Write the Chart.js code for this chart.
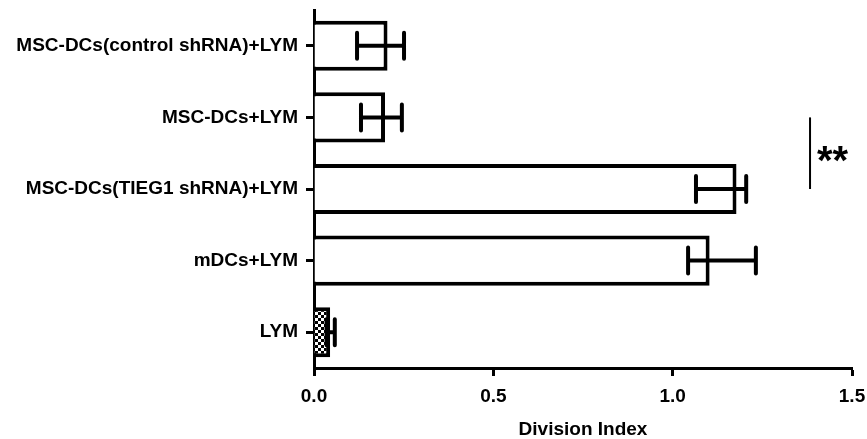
<!DOCTYPE html>
<html>
<head>
<meta charset="utf-8">
<style>
  html, body { margin: 0; padding: 0; background: #fff; }
  #wrap { width: 867px; height: 439px; position: relative; }
</style>
<script src="https://cdn.jsdelivr.net/npm/chart.js@4/dist/chart.umd.min.js"></script>
</head>
<body>
<div id="wrap"><canvas id="chart" width="867" height="439"></canvas></div>
<script>
const labels = [
  "MSC-DCs(control shRNA)+LYM",
  "MSC-DCs+LYM",
  "MSC-DCs(TIEG1 shRNA)+LYM",
  "mDCs+LYM",
  "LYM"
];
const values = [0.205, 0.198, 1.178, 1.103, 0.045];
const errLow = [0.12, 0.131, 1.065, 1.043, 0.035];
const errHigh = [0.251, 0.245, 1.205, 1.232, 0.058];
const xTicks = [0, 0.5, 1.0, 1.5];

// significance bracket between categories 1 and 2
const sigFrom = 1;
const sigTo = 2;
const sigX = 1.383;
const sigText = "**";

const FONT = "'Liberation Sans', Arial, sans-serif";

function checkerPattern() {
  const c = document.createElement("canvas");
  c.width = 6;
  c.height = 6;
  const g = c.getContext("2d");
  g.fillStyle = "#fff";
  g.fillRect(0, 0, 6, 6);
  g.fillStyle = "#000";
  g.fillRect(0, 0, 3, 3);
  g.fillRect(3, 3, 3, 3);
  return g.createPattern(c, "repeat");
}

const fills = labels.map((l, i) => (i === labels.length - 1 ? checkerPattern() : "#fff"));

const errorBars = {
  id: "errorBars",
  afterDatasetsDraw(chart) {
    const ctx = chart.ctx;
    const x = chart.scales.x;
    const y = chart.scales.y;
    ctx.save();
    ctx.strokeStyle = "#000";
    ctx.lineWidth = 4;
    ctx.lineCap = "round";
    labels.forEach((l, i) => {
      const cy = y.getPixelForValue(i);
      const x1 = x.getPixelForValue(errLow[i]);
      const x2 = x.getPixelForValue(errHigh[i]);
      ctx.beginPath();
      ctx.moveTo(x1, cy);
      ctx.lineTo(x2, cy);
      ctx.moveTo(x1, cy - 13);
      ctx.lineTo(x1, cy + 13);
      ctx.moveTo(x2, cy - 13);
      ctx.lineTo(x2, cy + 13);
      ctx.stroke();
    });

    // significance line
    const sx = x.getPixelForValue(sigX);
    const y1 = y.getPixelForValue(sigFrom);
    const y2 = y.getPixelForValue(sigTo);
    ctx.lineWidth = 2;
    ctx.lineCap = "butt";
    ctx.beginPath();
    ctx.moveTo(sx, y1);
    ctx.lineTo(sx, y2);
    ctx.stroke();
    ctx.fillStyle = "#000";
    ctx.font = "bold 40px " + FONT;
    ctx.textAlign = "left";
    ctx.textBaseline = "alphabetic";
    ctx.fillText(sigText, sx + 7, (y1 + y2) / 2 + 21);
    ctx.restore();
  }
};

new Chart(document.getElementById("chart"), {
  type: "bar",
  data: {
    labels: labels,
    datasets: [{
      data: values,
      backgroundColor: fills,
      borderColor: "#000",
      borderWidth: 4,
      barPercentage: 0.7,
      categoryPercentage: 1.0
    }]
  },
  options: {
    indexAxis: "y",
    responsive: false,
    animation: false,
    layout: { padding: { top: 10, right: 15 } },
    plugins: {
      legend: { display: false },
      tooltip: { enabled: false }
    },
    scales: {
      x: {
        min: 0,
        max: 1.5,
        afterBuildTicks(scale) {
          scale.ticks = xTicks.map(v => ({ value: v }));
        },
        ticks: {
          color: "#000",
          font: { family: FONT, size: 19, weight: "bold" },
          padding: 9,
          callback: v => Number(v).toFixed(1)
        },
        grid: {
          drawOnChartArea: false,
          drawTicks: true,
          tickLength: 8,
          tickWidth: 3,
          tickColor: "#000"
        },
        border: { display: true, color: "#000", width: 3 },
        title: {
          display: true,
          text: "Division Index",
          color: "#000",
          font: { family: FONT, size: 19, weight: "bold" },
          padding: { top: 8, bottom: -2 }
        },
        afterFit(scale) {
          scale.height = 71;
          scale.paddingLeft = 0;
          scale.paddingRight = 0;
        }
      },
      y: {
        ticks: {
          color: "#000",
          font: { family: FONT, size: 19, weight: "bold" },
          padding: 8
        },
        grid: {
          offset: false,
          drawOnChartArea: false,
          drawTicks: true,
          tickLength: 8,
          tickWidth: 3,
          tickColor: "#000"
        },
        border: { display: true, color: "#000", width: 3 },
        afterFit(scale) {
          scale.width = 314;
          scale.paddingTop = 0;
          scale.paddingBottom = 0;
        }
      }
    }
  },
  plugins: [errorBars]
});
</script>
</body>
</html>
